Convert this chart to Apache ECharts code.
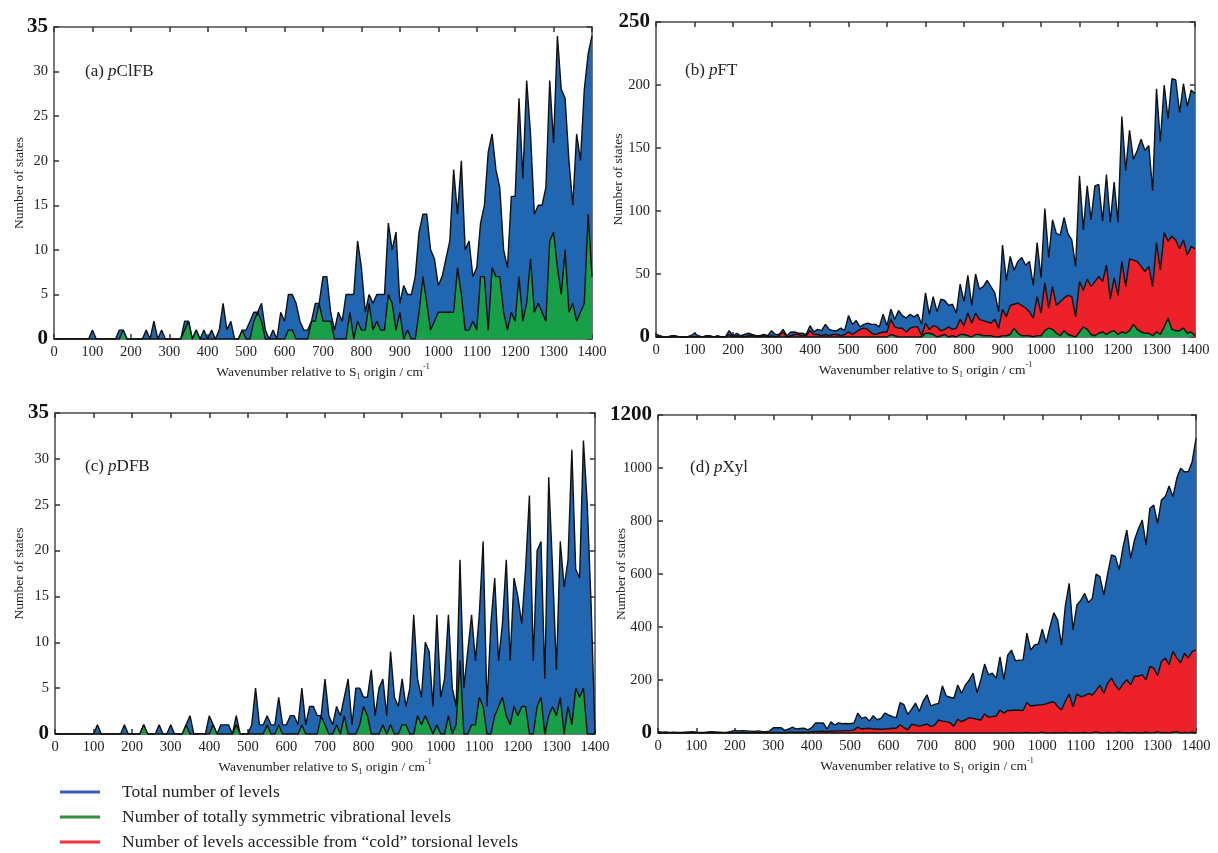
<!DOCTYPE html>
<html>
<head>
<meta charset="utf-8">
<script src="https://cdn.jsdelivr.net/npm/echarts@6/dist/echarts.min.js"></script>
<style>
  html, body { margin: 0; padding: 0; background: #fff; }
  #main { width: 1218px; height: 853px; }
</style>
</head>
<body>
<div id="main"></div>
<script>
// wavenumber grid, 10 cm-1 bins from 0 to 1400
var wavenumbers = [];
for (var i = 0; i <= 140; i++) { wavenumbers.push(i * 10); }

// (a) pClFB
var pclfbTotal = [
  0,0,0,0,0,0,0,0,0,0,
  1,0,0,0,0,0,0,1,1,0,
  0,0,0,0,1,0,2,0,1,0,
  0,0,0,0,2,2,0,1,0,1,
  0,1,0,1,4,1,2,0,0,1,
  1,2,3,3,4,1,0,1,0,3,
  2,5,5,4,2,1,1,2,4,4,
  7,7,3,1,3,2,5,5,5,11,
  8,3,5,4,5,5,5,13,10,12,
  4,6,5,5,7,12,14,14,10,9,
  6,7,9,11,19,14,20,10,11,7,
  8,13,15,21,23,19,17,10,8,16,
  16,27,18,29,23,14,15,15,17,29,
  22,34,28,27,20,15,23,20,28,32,
  34];
var pclfbSym = [
  0,0,0,0,0,0,0,0,0,0,
  0,0,0,0,0,0,0,0,1,0,
  0,0,0,0,0,0,0,0,0,0,
  0,0,0,0,1,2,0,1,0,0,
  0,0,0,0,0,0,0,0,0,1,
  0,0,2,3,2,0,0,0,0,0,
  0,1,1,0,0,0,0,2,2,4,
  2,2,2,0,0,0,0,3,0,2,
  1,1,4,1,2,1,1,5,4,1,
  3,0,1,0,0,3,7,4,1,2,
  3,3,3,3,3,8,5,1,1,2,
  1,7,7,1,8,7,7,3,1,3,
  2,7,2,4,9,3,4,3,2,11,
  12,8,5,10,3,4,2,3,4,14,
  7];

// (b) pFT
var pftTotal = [
  2,1,0,0,1,1,0,0,0,1,
  3,1,0,1,1,0,1,0,0,5,
  1,3,1,2,3,2,1,1,2,1,
  5,2,2,6,1,4,4,3,3,2,
  9,4,6,5,10,6,5,5,7,5,
  17,10,13,8,10,11,10,10,8,18,
  9,22,14,21,17,15,18,16,18,10,
  35,18,32,20,30,29,25,26,19,42,
  28,49,25,50,38,40,45,40,35,20,
  73,45,64,53,60,63,57,60,41,75,
  47,102,63,93,82,81,95,82,77,56,
  128,85,120,93,120,121,92,129,91,123,
  91,175,132,164,141,148,157,148,152,116,
  197,155,200,173,205,204,178,201,183,196,
  193];
var pftCold = [
  0,0,0,0,0,0,0,0,0,0,
  0,0,0,0,0,0,0,0,0,2,
  0,1,0,0,1,1,0,0,1,0,
  1,0,1,4,0,1,2,2,1,1,
  5,2,2,1,2,1,2,2,1,2,
  4,2,4,6,7,6,3,2,3,4,
  4,14,8,7,7,4,7,8,8,1,
  11,6,9,8,5,6,8,6,7,14,
  9,19,11,19,14,13,12,11,14,7,
  22,16,25,26,27,25,23,20,15,32,
  19,43,23,40,25,28,31,33,32,16,
  44,37,46,40,44,48,44,57,30,47,
  33,60,40,62,61,60,56,52,56,40,
  75,53,83,76,80,77,70,77,65,72,
  70];
var pftSym = [
  0,0,0,0,0,0,0,0,0,0,
  0,0,0,0,0,0,0,0,0,0,
  0,0,0,0,0,0,0,0,0,0,
  0,0,0,0,0,0,0,0,0,0,
  0,0,0,0,0,0,0,0,0,0,
  0,0,0,0,0,0,0,0,0,0,
  0,2,1,0,0,0,0,0,0,0,
  3,3,2,0,1,2,0,1,0,2,
  2,1,0,2,2,1,1,1,0,0,
  1,1,2,7,3,1,1,1,0,1,
  1,5,7,6,3,1,5,2,1,0,
  4,8,6,2,1,3,4,2,4,5,
  2,4,3,5,10,6,4,3,3,1,
  4,2,8,15,6,5,5,7,3,4,
  1];

// (c) pDFB
var pdfbTotal = [
  0,0,0,0,0,0,0,0,0,0,
  0,1,0,0,0,0,0,0,1,0,
  0,0,0,1,0,0,0,1,0,0,
  1,0,0,0,1,2,0,0,0,0,
  2,1,0,1,1,1,0,2,0,0,
  0,1,5,1,1,2,1,1,4,1,
  1,2,2,1,5,1,3,3,2,2,
  6,2,1,3,2,4,6,1,5,5,
  4,4,7,2,5,6,2,9,4,3,
  6,3,5,13,6,4,10,9,3,13,
  4,6,13,5,3,19,5,9,13,8,
  13,21,3,12,17,8,12,19,8,17,
  15,12,18,26,8,20,21,6,28,18,
  7,21,16,19,31,18,17,32,25,14,
  0];
var pdfbSym = [
  0,0,0,0,0,0,0,0,0,0,
  0,0,0,0,0,0,0,0,0,0,
  0,0,0,1,0,0,0,0,0,0,
  0,0,0,0,1,0,0,0,0,0,
  0,1,0,0,0,0,0,1,0,0,
  0,0,0,0,0,1,0,0,1,0,
  0,0,0,0,1,0,0,0,0,2,
  1,0,0,1,0,2,0,0,0,1,
  3,2,0,0,0,1,0,1,0,0,
  1,1,0,0,2,1,2,1,0,1,
  0,0,2,0,1,8,0,0,1,1,
  4,3,0,0,2,3,4,2,1,3,
  2,3,3,0,0,3,4,0,2,3,
  2,4,0,3,1,5,4,5,0,0,
  0];

// (d) pXyl
var pxylTotal = [
  5,3,4,2,3,2,2,3,4,5,
  3,2,2,4,5,4,3,2,3,6,
  10,8,9,8,7,6,8,6,5,7,
  20,20,20,10,15,22,15,17,18,12,
  20,38,38,38,15,42,30,38,35,36,
  35,38,75,55,60,45,65,50,55,75,
  68,62,58,115,107,70,90,113,81,120,
  144,102,108,112,178,140,135,131,181,150,
  181,200,226,152,200,260,219,226,206,287,
  202,294,313,273,275,276,377,313,332,336,
  392,339,400,454,426,332,480,565,389,483,
  500,527,492,508,600,590,521,600,672,666,
  616,700,766,660,729,770,804,710,848,860,
  791,879,892,932,892,961,999,986,986,1024,
  1112];
var pxylCold = [
  0,0,0,0,0,0,0,0,0,0,
  0,0,0,0,0,0,0,0,0,0,
  1,1,1,1,0,1,1,0,1,1,
  2,2,1,2,3,3,2,3,3,2,
  5,6,6,7,5,8,7,8,8,9,
  9,12,22,15,17,18,15,15,14,15,
  16,18,18,31,20,12,33,30,26,30,
  34,24,30,49,45,43,39,26,52,43,
  50,58,55,52,49,72,60,62,64,87,
  75,85,85,87,86,85,115,102,104,106,
  106,110,115,118,100,87,120,147,99,147,
  137,140,149,143,160,181,149,188,207,180,
  163,185,201,182,214,214,220,201,251,245,
  216,270,283,258,308,283,264,301,283,308,
  314];
var pxylSym = [
  0,0,0,0,0,0,0,0,0,0,
  0,0,0,0,0,0,0,0,0,0,
  0,0,0,0,0,0,0,0,0,0,
  0,0,0,0,0,0,0,0,0,0,
  0,0,0,0,0,0,0,0,0,0,
  0,0,0,0,0,0,0,0,0,0,
  0,0,0,0,0,0,0,0,0,0,
  0,0,0,0,0,0,0,0,0,0,
  0,0,0,0,0,0,0,0,0,0,
  0,0,1,0,0,0,2,0,0,1,
  3,0,0,1,0,0,2,0,0,1,
  0,2,0,1,4,0,0,2,0,1,
  3,0,1,0,2,0,0,3,0,1,
  4,0,2,0,3,5,0,2,0,4,
  0];

var panelNames = ['ClFB', 'FT', 'DFB', 'Xyl'];
var panelTags = ['(a) ', '(b) ', '(c) ', '(d) '];
var yMax = [35, 250, 35, 1200];
var yStep = [5, 50, 5, 200];

var nameTotal = 'Total number of levels';
var nameSym = 'Number of totally symmetric vibrational levels';
var nameCold = 'Number of levels accessible from \u201ccold\u201d torsional levels';

var blue = '#2166b0', green = '#17a048', red = '#ec2129';
var serif = 'Liberation Serif';

// grid boxes, px
var grids = [
  {left: 54, top: 27, width: 538, height: 312},
  {left: 656, top: 22, width: 539, height: 315},
  {left: 55, top: 413, width: 540, height: 321},
  {left: 658, top: 415, width: 538, height: 318}
];
var yNameGap = [28, 31, 29, 30];
var titlePos = [[80, 58], [680, 57], [80, 453], [685, 454]];

var chart = echarts.init(document.getElementById('main'));

var xAxes = [], yAxes = [], series = [], titles = [];
var frameLine = {show: true, onZero: false, lineStyle: {color: '#4a4a4a', width: 1.5}};
var tickIn = {show: true, inside: true, length: 5, lineStyle: {color: '#333', width: 1.5}};

for (var g = 0; g < 4; g++) {
  (function (g) {
    xAxes.push({
      type: 'value', gridIndex: g, position: 'bottom', min: 0, max: 1400, interval: 100,
      axisLine: frameLine, axisTick: tickIn, splitLine: {show: false},
      axisLabel: {fontFamily: serif, fontSize: 14.5, color: '#222', margin: 6,
        formatter: function (v) { return String(v); }},
      name: '{t|Wavenumber relative to S}{s|1}{t| origin / cm}{p|-1}',
      nameLocation: 'middle', nameGap: 24,
      nameTextStyle: {
        rich: {
          t: {fontFamily: serif, fontSize: 13.5, color: '#222', lineHeight: 18},
          s: {fontFamily: serif, fontSize: 8, color: '#222', verticalAlign: 'bottom', lineHeight: 10},
          p: {fontFamily: serif, fontSize: 8, color: '#222', verticalAlign: 'top', lineHeight: 10}
        }
      }
    });
    xAxes.push({
      type: 'value', gridIndex: g, position: 'top', min: 0, max: 1400, interval: 100,
      axisLine: frameLine, axisTick: tickIn, axisLabel: {show: false}, splitLine: {show: false}
    });
    yAxes.push({
      type: 'value', gridIndex: g, position: 'left', min: 0, max: yMax[g], interval: yStep[g],
      axisLine: frameLine, axisTick: tickIn, splitLine: {show: false},
      axisLabel: {
        fontFamily: serif, fontSize: 14.5, color: '#222', margin: 6,
        formatter: function (v) {
          if (v === 0 || v === yMax[g]) return '{b|' + v + '}';
          return String(v);
        },
        rich: {b: {fontFamily: serif, fontSize: 21, fontWeight: 'bold', color: '#111'}}
      },
      name: 'Number of states', nameLocation: 'middle', nameGap: yNameGap[g], nameRotate: 90,
      nameMoveOverlap: false,
      nameTextStyle: {fontFamily: serif, fontSize: 13.5, color: '#222'}
    });
    yAxes.push({
      type: 'value', gridIndex: g, position: 'right', min: 0, max: yMax[g], interval: yStep[g],
      axisLine: frameLine, axisTick: tickIn, axisLabel: {show: false}, splitLine: {show: false}
    });
    titles.push({
      text: '{n|' + panelTags[g] + '}{i|p}{n|' + panelNames[g] + '}',
      left: titlePos[g][0], top: titlePos[g][1],
      textStyle: {
        fontWeight: 'normal',
        rich: {
          n: {fontFamily: serif, fontSize: 17, fontWeight: 'normal', color: '#222'},
          i: {fontFamily: serif, fontSize: 17, fontWeight: 'normal', fontStyle: 'italic', color: '#222'}
        }
      }
    });
  })(g);
}

function areaSeries(name, g, values, color, z) {
  var pts = [];
  for (var k = 0; k < values.length; k++) { pts.push([wavenumbers[k], values[k]]); }
  return {
    name: name, type: 'line', xAxisIndex: g * 2, yAxisIndex: g * 2,
    data: pts, symbol: 'none', showSymbol: false, silent: true, z: z,
    lineStyle: {color: '#111', width: 1.4},
    areaStyle: {color: color, opacity: 1},
    itemStyle: {color: color}
  };
}

series.push(areaSeries(nameTotal, 0, pclfbTotal, blue, 2));
series.push(areaSeries(nameSym, 0, pclfbSym, green, 4));

series.push(areaSeries(nameTotal, 1, pftTotal, blue, 2));
series.push(areaSeries(nameCold, 1, pftCold, red, 3));
series.push(areaSeries(nameSym, 1, pftSym, green, 4));

series.push(areaSeries(nameTotal, 2, pdfbTotal, blue, 2));
series.push(areaSeries(nameSym, 2, pdfbSym, green, 4));

series.push(areaSeries(nameTotal, 3, pxylTotal, blue, 2));
series.push(areaSeries(nameCold, 3, pxylCold, red, 3));
series.push(areaSeries(nameSym, 3, pxylSym, green, 4));

var option = {
  backgroundColor: '#fff',
  animation: false,
  title: titles,
  grid: grids,
  xAxis: xAxes,
  yAxis: yAxes,
  legend: {
    orient: 'vertical', left: 60, top: 783, padding: 0,
    icon: 'rect', itemWidth: 40, itemHeight: 3, itemGap: 7,
    selectedMode: false,
    textStyle: {fontFamily: serif, fontSize: 17.5, color: '#222', lineHeight: 18, padding: [0, 0, 0, 17]},
    data: [
      {name: nameTotal, itemStyle: {color: '#3d5cb8'}},
      {name: nameSym, itemStyle: {color: '#2f8f3e'}},
      {name: nameCold, itemStyle: {color: '#ef3340'}}
    ]
  },
  series: series
};
chart.setOption(option);
</script>
</body>
</html>
